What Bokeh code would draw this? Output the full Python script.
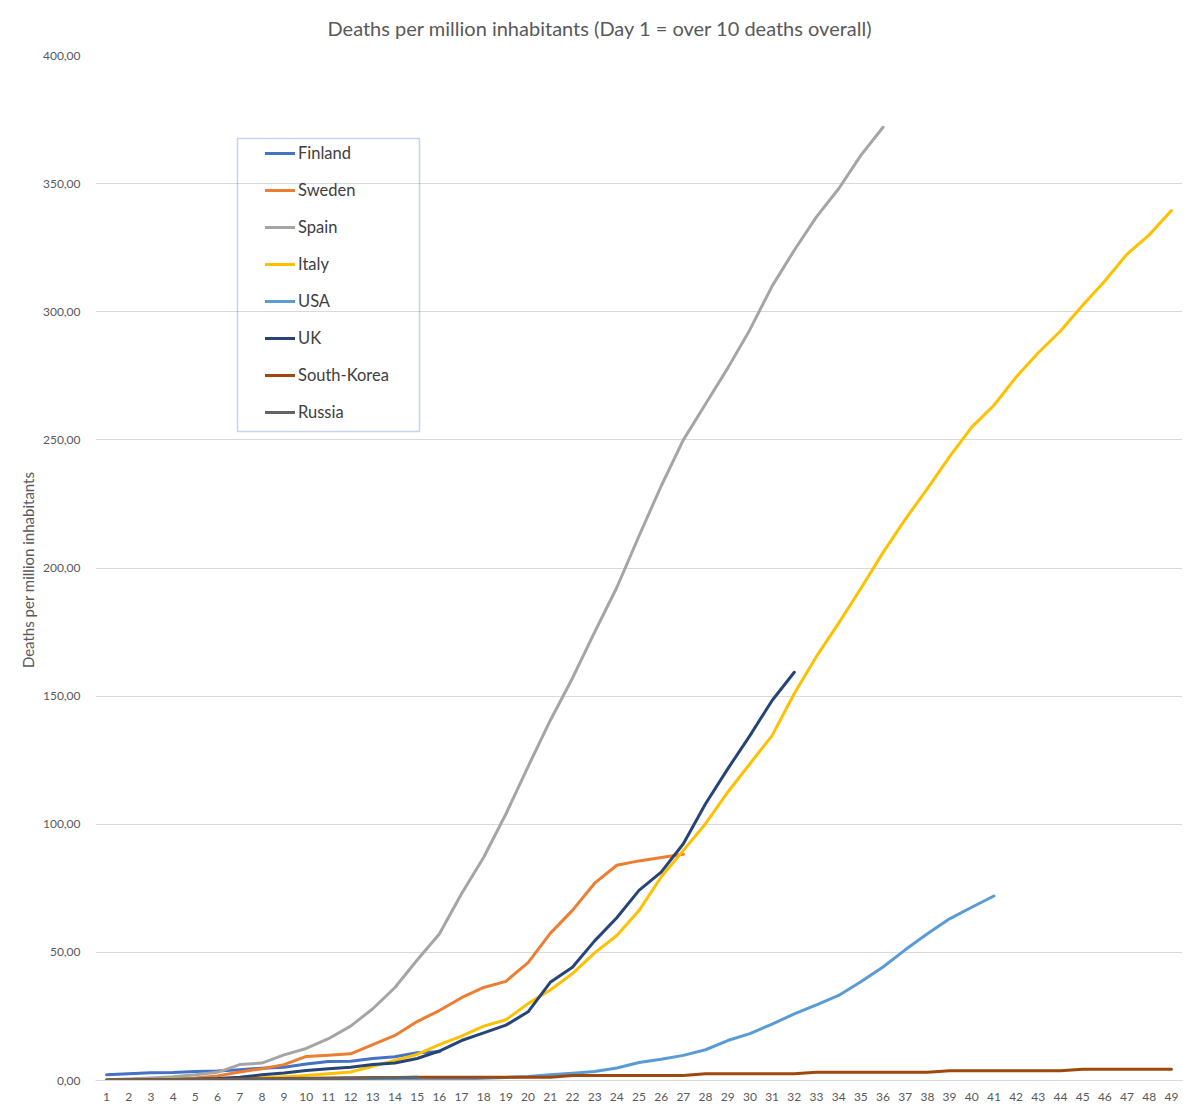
from bokeh.plotting import figure
from bokeh.models import Range1d, FixedTicker, Legend, LegendItem, BoxAnnotation, Title
from bokeh.embed import file_html
from bokeh.resources import INLINE

# ---- data ----
days = list(range(1, 50))
tick_values = [0, 50, 100, 150, 200, 250, 300, 350, 400]
tick_labels = ["0,00", "50,00", "100,00", "150,00", "200,00", "250,00", "300,00", "350,00", "400,00"]

countries = ["Finland", "Sweden", "Spain", "Italy", "USA", "UK", "South-Korea", "Russia"]
colors = ["#4472C4", "#ED7D31", "#A5A5A5", "#FFC000", "#5B9BD5", "#264478", "#9E480E", "#636363"]

finland = [2.2, 2.6, 3.0, 3.1, 3.5, 3.7, 4.2, 4.8, 5.2, 6.4, 7.4, 7.5, 8.6, 9.3, 10.8, 11.2]
sweden = [0.1, 0.2, 0.3, 0.6, 1.0, 1.8, 3.3, 4.6, 6.2, 9.4, 9.9, 10.4, 14.0, 17.6, 23.0, 27.3,
          32.3, 36.3, 38.7, 46.0, 57.4, 66.4, 77.0, 84.0, 85.7, 87.0, 88.3]
spain = [0.3, 0.6, 1.0, 1.5, 2.2, 3.2, 6.2, 6.8, 10.0, 12.5, 16.3, 21.2, 28.0, 36.3, 47.0, 57.2,
         72.9, 87.1, 104.0, 122.5, 140.5, 157.0, 175.0, 192.4, 212.5, 232.0, 250.0, 264.0, 278.0,
         293.0, 310.0, 324.0, 337.0, 348.0, 361.0, 372.0]
italy = [0.2, 0.3, 0.4, 0.5, 0.6, 0.8, 0.9, 1.1, 1.5, 2.0, 2.6, 3.3, 5.5, 7.8, 10.2, 14.0, 17.3,
         21.2, 23.7, 30.0, 35.3, 41.7, 49.8, 56.6, 66.3, 79.4, 89.8, 100.2, 112.5, 123.6, 134.6,
         151.0, 165.5, 178.5, 192.0, 206.0, 219.0, 231.0, 243.5, 255.0, 263.5, 274.5, 284.0,
         292.5, 302.5, 312.0, 322.5, 330.0, 339.5]
usa = [0.0, 0.0, 0.0, 0.0, 0.0, 0.0, 0.0, 0.1, 0.1, 0.1, 0.1, 0.2, 0.2, 0.2, 0.3, 0.4, 0.6, 0.9,
       1.2, 1.6, 2.2, 2.8, 3.5, 4.9, 7.0, 8.3, 9.8, 12.0, 15.6, 18.3, 22.0, 26.0, 29.5, 33.2,
       38.5, 44.3, 51.0, 57.3, 63.1, 67.6, 72.0]
uk = [0.1, 0.2, 0.3, 0.4, 0.6, 0.8, 1.3, 2.2, 2.9, 3.9, 4.6, 5.2, 6.2, 6.8, 8.6, 11.5, 15.6, 18.6,
      21.6, 26.8, 38.3, 44.2, 54.5, 63.5, 74.2, 81.3, 92.4, 108.0, 121.6, 134.6, 148.3, 159.3]
south_korea = [0.2, 0.25, 0.3, 0.35, 0.4, 0.5, 0.6, 0.7, 0.8, 0.9, 1.0, 1.1, 1.2, 1.2, 1.3, 1.3,
               1.3, 1.3, 1.3, 1.3, 1.3, 1.95, 1.95, 1.95, 1.95, 1.95, 1.95, 2.6, 2.6, 2.6, 2.6,
               2.6, 3.25, 3.25, 3.25, 3.25, 3.25, 3.25, 3.8, 3.8, 3.8, 3.8, 3.8, 3.8, 4.4, 4.4,
               4.4, 4.4, 4.4]
russia = [0.07, 0.1, 0.12, 0.17, 0.24, 0.3, 0.4, 0.5, 0.6, 0.7, 0.8, 0.9, 1.0, 1.1, 1.3]

series = [finland, sweden, spain, italy, usa, uk, south_korea, russia]

FONT = "Lato"
TXT = "#595959"

p = figure(width=1192, height=1109, output_backend="svg", toolbar_location=None,
           x_range=Range1d(0.5, 49.5), y_range=Range1d(0, 400),
           min_border_left=95, min_border_right=10, min_border_top=55, min_border_bottom=29)
p.outline_line_color = None
p.background_fill_color = "white"
p.border_fill_color = "white"

p.add_layout(Title(text="Deaths per million inhabitants (Day 1 = over 10 deaths overall)",
                   align="left", offset=232, text_font=FONT, text_font_size="20px",
                   text_font_style="normal", text_color=TXT, standoff=29,
                   vertical_align="middle"), "above")

# axes
p.xaxis.ticker = FixedTicker(ticks=days)
p.yaxis.ticker = FixedTicker(ticks=tick_values)
p.yaxis.major_label_overrides = {v: s for v, s in zip(tick_values, tick_labels)}
for ax in (p.xaxis[0], p.yaxis[0]):
    ax.major_tick_line_color = None
    ax.minor_tick_line_color = None
    ax.major_label_text_font = FONT
    ax.major_label_text_font_size = "12px"
    ax.major_label_text_color = TXT
p.yaxis.axis_line_color = None
p.xaxis.axis_line_color = "#D9D9D9"
p.xaxis.major_label_standoff = 6
p.yaxis.major_label_standoff = 9
p.yaxis.axis_label = "Deaths per  million inhabitants"
p.yaxis.axis_label_text_font = FONT
p.yaxis.axis_label_text_font_style = "normal"
p.yaxis.axis_label_text_font_size = "15px"
p.yaxis.axis_label_text_color = TXT
p.yaxis.axis_label_standoff = 3

p.xgrid.grid_line_color = None
p.ygrid.grid_line_color = "#D9D9D9"
p.ygrid.grid_line_width = 1

items = []
for name, col, vals in zip(countries, colors, series):
    r = p.line(x=days[:len(vals)], y=vals, line_color=col, line_width=3,
               line_join="round", line_cap="round")
    items.append(LegendItem(label=name, renderers=[r]))

# legend frame
p.add_layout(BoxAnnotation(left=142, right=324, bottom=649, top=942,
                           left_units="screen", right_units="screen",
                           bottom_units="screen", top_units="screen",
                           fill_alpha=0, line_color="#4472C4", line_width=1.5))

legend = Legend(items=items, location=(170, 658), padding=0, margin=0, spacing=17,
                glyph_width=30, glyph_height=20, label_height=20, label_standoff=3,
                label_text_font=FONT, label_text_font_size="16.5px", label_text_color="#404040",
                border_line_color=None, background_fill_alpha=0)
p.add_layout(legend)

open("out.html", "w").write(file_html(p, INLINE))
